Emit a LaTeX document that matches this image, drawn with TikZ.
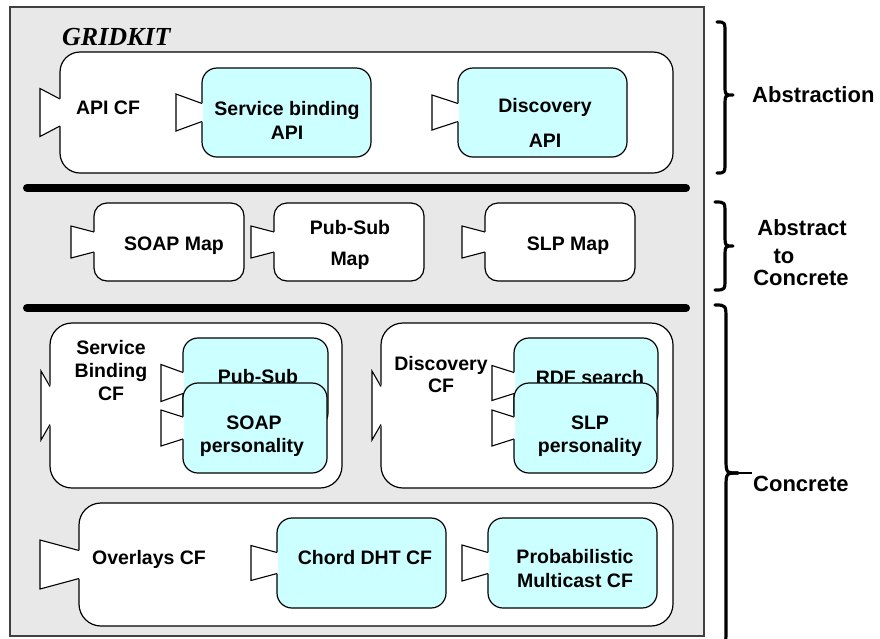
\documentclass[tikz,border=0pt]{standalone}
\usepackage{fontspec}
\setmainfont{Liberation Sans}
\newfontfamily\gkserif{Liberation Serif}
\usetikzlibrary{calc}
\definecolor{bggray}{RGB}{232,232,232}
\definecolor{cyanfill}{RGB}{204,255,255}
\newcommand\portshape[4]{%
  \fill[white] ($(#1.west)+(1.2,#4)$) -- ($(#1.west)+(-#2,#3)$) -- ($(#1.west)+(-#2,-#3)$) -- ($(#1.west)+(1.2,-#4)$) -- cycle;
  \draw[portline] ($(#1.west)+(0,#4)$) -- ($(#1.west)+(-#2,#3)$) -- ($(#1.west)+(-#2,-#3)$) -- ($(#1.west)+(0,-#4)$);
}
\tikzset{
  portline/.style={line width=1.1pt, line join=miter},
  whitebox/.style={draw=black, line width=1.2pt, fill=white, inner sep=0pt, outer sep=0pt},
  cyanbox/.style={draw=black, line width=1.2pt, fill=cyanfill, inner sep=0pt, outer sep=0pt, rounded corners=15pt},
  lbl/.style={font=\bfseries\fontsize{19.5}{22}\selectfont, inner sep=0pt, text height=14pt, text depth=0pt},
  rlbl/.style={font=\bfseries\fontsize{22}{25}\selectfont, inner sep=0pt, text height=16pt, text depth=0pt},
  sepline/.style={line width=8pt, line cap=round},
  bracestyle/.style={line width=3.2pt, line cap=round, line join=round},
}
\begin{document}
\begin{tikzpicture}[x=1pt,y=-1pt]
\useasboundingbox (0,0) rectangle (880,638);
% outer frame
\draw[fill=bggray, draw=black!75, line width=1.3pt] (10,7) rectangle (704,636);
\node[anchor=base west, inner sep=0pt, font=\gkserif\bfseries\itshape\fontsize{26}{28}\selectfont] (gridkit) at (62,45) {GRIDKIT};
% separators
\coordinate (s1a) at (27,188); \coordinate (s1b) at (686,188);
\coordinate (s2a) at (27,308); \coordinate (s2b) at (686,308);
\draw[sepline] (s1a) -- (s1b);
\draw[sepline] (s2a) -- (s2b);

% Abstraction layer
\node[whitebox, rounded corners=20pt, minimum width=613pt, minimum height=121pt] (apicf) at (366.5,112.5) {};
\portshape{apicf}{20}{24}{13.5}
\node[lbl] (apicft) at (108,107) {API CF};
\node[cyanbox, minimum width=169pt, minimum height=89pt] (sbapi) at (286.5,112.5) {};
\portshape{sbapi}{26}{18.5}{9}
\node[lbl] (sbapit1) at (287,108) {Service binding};
\node[lbl] (sbapit2) at (287,132) {API};
\node[cyanbox, minimum width=169pt, minimum height=89pt] (discapi) at (542.5,112.5) {};
\portshape{discapi}{26}{17.5}{9}
\node[lbl] (discapit1) at (545,105) {Discovery};
\node[lbl] (discapit2) at (545,140) {API};

% Abstract to concrete
\node[whitebox, rounded corners=13pt, minimum width=150pt, minimum height=78pt] (soapmap) at (169,242) {};
\portshape{soapmap}{23}{16}{10}
\node[lbl] (soapmapt) at (174,243) {SOAP Map};
\node[whitebox, rounded corners=13pt, minimum width=150pt, minimum height=78pt] (psmap) at (349,242) {};
\portshape{psmap}{23}{16}{10}
\node[lbl] (psmapt1) at (350,227) {Pub-Sub};
\node[lbl] (psmapt2) at (350,258) {Map};
\node[whitebox, rounded corners=13pt, minimum width=150pt, minimum height=78pt] (slpmap) at (560,242) {};
\portshape{slpmap}{23}{16}{10}
\node[lbl] (slpmapt) at (568,243) {SLP Map};

% Concrete: service binding CF
\node[whitebox, rounded corners=22pt, minimum width=292pt, minimum height=165pt] (sbcf) at (196,405.5) {};
\portshape{sbcf}{9}{34.5}{19}
\node[lbl] (sbcft1) at (111,347) {Service};
\node[lbl] (sbcft2) at (111,370) {Binding};
\node[lbl] (sbcft3) at (111,393) {CF};
\node[cyanbox, minimum width=145pt, minimum height=90pt] (pubsub) at (255.5,383) {};
\node[lbl] (pubsubt) at (258,376) {Pub-Sub};
\portshape{pubsub}{22}{18.5}{10.5}
\node[cyanbox, minimum width=144pt, minimum height=90pt] (soap) at (255,428) {};
\portshape{soap}{22}{18}{11}
\node[lbl] (soapt1) at (254,422) {SOAP};
\node[lbl] (soapt2) at (252,445) {personality};

% Concrete: discovery CF
\node[whitebox, rounded corners=22pt, minimum width=292pt, minimum height=165pt] (disccf) at (527,405.5) {};
\portshape{disccf}{9}{34.5}{19}
\node[lbl] (disccft1) at (441,363) {Discovery};
\node[lbl] (disccft2) at (441,385) {CF};
\node[cyanbox, minimum width=144pt, minimum height=90pt] (rdf) at (586,383) {};
\node[lbl] (rdft) at (590,377) {RDF search};
\portshape{rdf}{22}{17.5}{10.5}
\node[cyanbox, minimum width=143pt, minimum height=90pt] (slp) at (585.5,428) {};
\portshape{slp}{22}{18}{11}
\node[lbl] (slpt1) at (590,422) {SLP};
\node[lbl] (slpt2) at (590,445) {personality};

% Overlays
\node[whitebox, rounded corners=22pt, minimum width=594pt, minimum height=123pt] (overlays) at (376,564.5) {};
\portshape{overlays}{39}{24.5}{14}
\node[lbl] (overlayst) at (149,557) {Overlays CF};
\node[cyanbox, minimum width=169pt, minimum height=90pt] (chord) at (361.5,563) {};
\portshape{chord}{26}{17.5}{10.5}
\node[lbl] (chordt) at (365,557) {Chord DHT CF};
\node[cyanbox, minimum width=169pt, minimum height=90pt] (prob) at (572.5,563) {};
\portshape{prob}{26}{18}{10.5}
\node[lbl] (probt1) at (575,556) {Probabilistic};
\node[lbl] (probt2) at (575,580) {Multicast CF};

% braces
\draw[bracestyle] (717,22) .. controls (725,22) .. (725,34) -- (725,85) .. controls (725,95) .. (733,95)
  .. controls (725,95) .. (725,107) -- (725,161) .. controls (725,173) .. (717,173);
\draw[bracestyle] (715,202) .. controls (725,202) .. (725,214) -- (725,234) .. controls (725,246) .. (733,246)
  .. controls (725,246) .. (725,258) -- (725,278) .. controls (725,290) .. (715,290);
\draw[bracestyle] (715,305) .. controls (726,305) .. (726,320) -- (726,458) .. controls (726,473) .. (738,473);
\draw[line width=1.2pt] (735,473) -- (752,473);
\draw[bracestyle] (738,473) .. controls (726,473) .. (726,488) -- (726,630) .. controls (726,645) .. (715,645);

\node[rlbl, anchor=west] (labs) at (752,94) {Abstraction};
\node[rlbl] (la2c1) at (802,227) {Abstract};
\node[rlbl] (la2c2) at (784,255) {to};
\node[rlbl] (la2c3) at (801,277) {Concrete};
\node[rlbl, anchor=west] (lconc) at (753,483) {Concrete};
\end{tikzpicture}
\end{document}
